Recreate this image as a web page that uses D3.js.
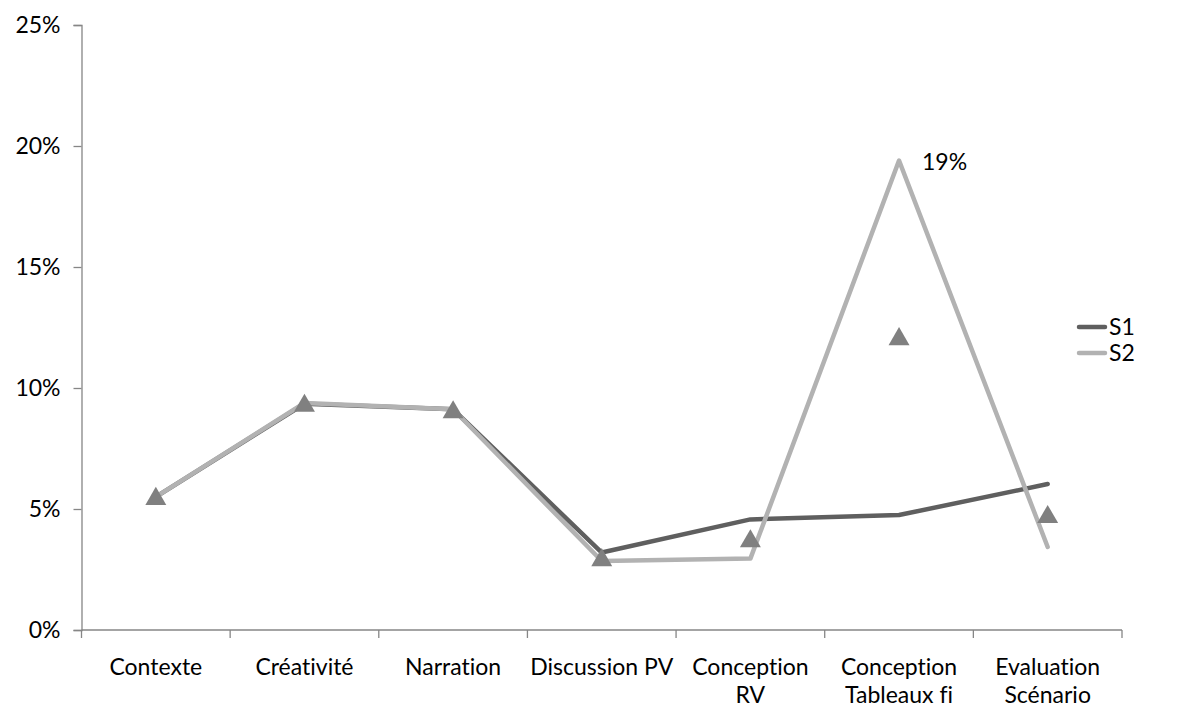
<!DOCTYPE html>
<html>
<head>
<meta charset="utf-8">
<script src="https://cdn.jsdelivr.net/npm/d3@7"></script>
<style>
  html, body { margin: 0; padding: 0; background: #fff; }
  svg { display: block; font-family: Lato, "Open Sans", sans-serif; font-variant-ligatures: none; }
</style>
</head>
<body>
<svg id="chart" width="1197" height="708"></svg>
<script>
const categories = ["Contexte", "Créativité", "Narration", "Discussion PV", "Conception RV", "Conception Tableaux fi", "Evaluation Scénario"];
const categoryLines = [["Contexte"], ["Créativité"], ["Narration"], ["Discussion PV"], ["Conception", "RV"], ["Conception", "Tableaux fi"], ["Evaluation", "Scénario"]];
const s1Values = [0.055, 0.0935, 0.0912, 0.032, 0.0457, 0.0475, 0.0603];
const s2Values = [0.055, 0.0938, 0.0912, 0.0285, 0.0295, 0.1940, 0.0343];
const markerValues = [0.055, 0.0935, 0.0908, 0.0297, 0.0375, 0.121, 0.0475];
const yTicks = [0, 0.05, 0.10, 0.15, 0.20, 0.25];
const seriesNames = ["S1", "S2"];
const labelIndex = 5;
const labelText = "19%";

(function () {
const svg = d3.select("#chart");
const mLeft = 81.5, mRight = 1122, mTop = 25, mBottom = 630;
const fs = "23px";

const x = d3.scaleBand().domain(categories).range([mLeft, mRight]).padding(0);
const y = d3.scaleLinear().domain([0, 0.25]).range([mBottom, mTop]);
const cx = c => x(c) + x.bandwidth() / 2;

const axisColor = "#868686";

// Y axis
const yAxis = d3.axisLeft(y).tickValues(yTicks).tickFormat(d3.format(".0%")).tickSize(8).tickPadding(13);
const gy = svg.append("g").attr("transform", `translate(${mLeft},0)`).call(yAxis);
gy.select(".domain").attr("stroke", axisColor).attr("stroke-width", 1.3);
gy.selectAll(".tick line").attr("stroke", axisColor).attr("stroke-width", 1.3);
gy.selectAll(".tick text").attr("fill", "#000").style("font-size", fs).style("font-family", "Lato, sans-serif");

// X axis line
svg.append("line").attr("x1", mLeft).attr("x2", mRight).attr("y1", y(0)).attr("y2", y(0))
  .attr("stroke", axisColor).attr("stroke-width", 1.3);
// X ticks at band boundaries
const boundaries = categories.map(c => x(c)).concat([x(categories[categories.length - 1]) + x.bandwidth()]);
svg.selectAll(".xtick").data(boundaries).enter().append("line")
  .attr("x1", d => d).attr("x2", d => d).attr("y1", y(0)).attr("y2", y(0) + 8)
  .attr("stroke", axisColor).attr("stroke-width", 1.3);

// X labels
const xl = svg.selectAll(".xlabel").data(categories).enter().append("text")
  .attr("x", d => cx(d)).attr("y", 675)
  .attr("text-anchor", "middle").style("font-size", fs).attr("fill", "#000");
xl.each(function(d, i) {
  const t = d3.select(this);
  categoryLines[i].forEach((ln, j) => {
    t.append("tspan").attr("x", cx(d)).attr("dy", j === 0 ? 0 : 28).text(ln);
  });
});

const line = d3.line().x((d, i) => cx(categories[i])).y(d => y(d));

svg.append("path").datum(s1Values).attr("d", line)
  .attr("fill", "none").attr("stroke", "#5f5f5f").attr("stroke-width", 4.5)
  .attr("stroke-linejoin", "round").attr("stroke-linecap", "round");
svg.append("path").datum(s2Values).attr("d", line)
  .attr("fill", "none").attr("stroke", "#b2b2b2").attr("stroke-width", 4.5)
  .attr("stroke-linejoin", "round").attr("stroke-linecap", "round");

// Triangle markers
const tri = d3.symbol().type(d3.symbolTriangle).size(190);
svg.selectAll(".marker").data(markerValues).enter().append("path")
  .attr("d", tri)
  .attr("transform", (d, i) => `translate(${cx(categories[i])},${y(d) + 2})`)
  .attr("fill", "#808080");

// Data label
svg.append("text").attr("x", cx(categories[labelIndex]) + 23).attr("y", y(s2Values[labelIndex]) + 9)
  .style("font-size", fs).attr("fill", "#000").text(labelText);

// Legend
const legendColors = ["#5f5f5f", "#b2b2b2"];
seriesNames.forEach((n, i) => {
  const ly = 327 + i * 26;
  svg.append("line").attr("x1", 1079).attr("x2", 1105).attr("y1", ly).attr("y2", ly)
    .attr("stroke", legendColors[i]).attr("stroke-width", 4.5).attr("stroke-linecap", "round");
  svg.append("text").attr("x", 1109).attr("y", ly + 8).style("font-size", fs).attr("fill", "#000").text(n);
});
})();
</script>
</body>
</html>
